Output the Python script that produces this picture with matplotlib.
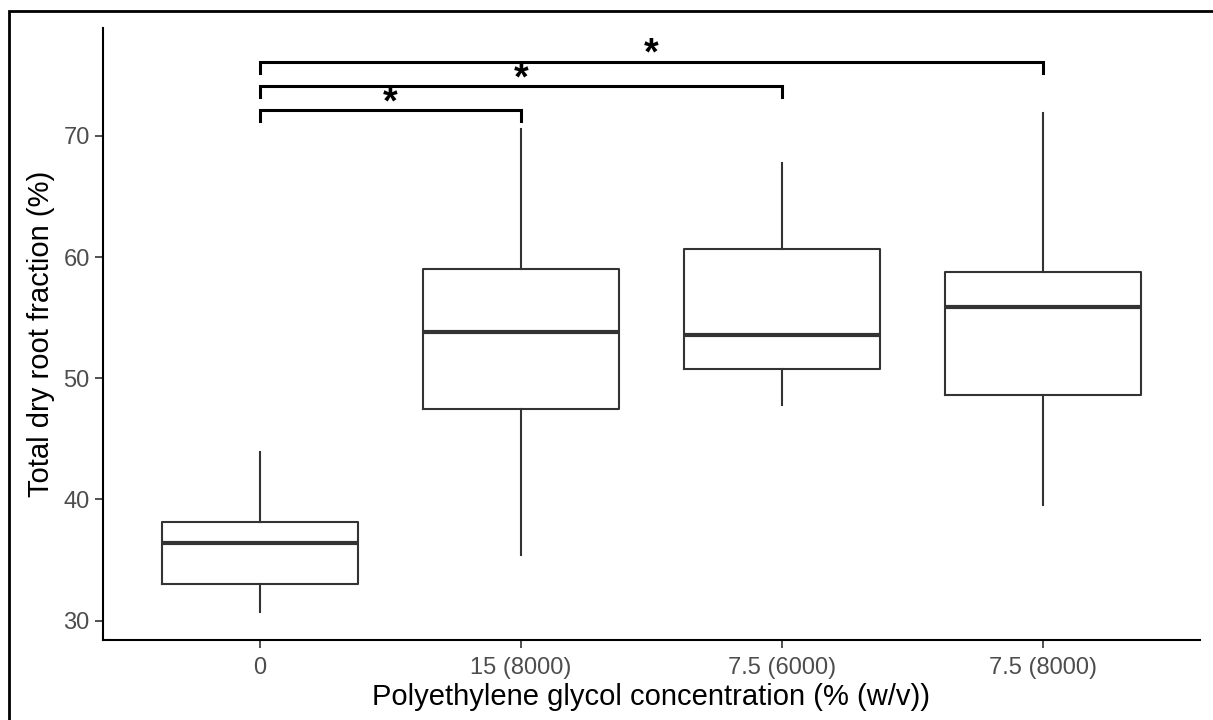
import matplotlib.pyplot as plt
from matplotlib.patches import Rectangle

plt.rcParams['font.family'] = ['Liberation Sans', 'DejaVu Sans']

# values
groups = ['0', '15 (8000)', '7.5 (6000)', '7.5 (8000)']
whislo = [30.7, 35.4, 47.8, 39.5]
q1 = [33.0, 47.5, 50.8, 48.6]
med = [36.4, 53.8, 53.6, 55.9]
q3 = [38.1, 59.0, 60.7, 58.8]
whishi = [43.9, 70.6, 67.8, 71.9]

# significance brackets: (from group, to group, height)
brackets = [(0, 1, 72.1), (0, 2, 74.1), (0, 3, 76.1)]
bracket_labels = ['*', '*', '*']

fig = plt.figure(figsize=(12.13, 7.2), dpi=100)
ax = fig.add_axes([103 / 1213, 80 / 720, 1097 / 1213, 612 / 720])

stats = []
for i, g in enumerate(groups):
    stats.append(dict(label=g, whislo=whislo[i], q1=q1[i], med=med[i],
                      q3=q3[i], whishi=whishi[i], fliers=[]))

ax.bxp(stats, positions=range(len(groups)), widths=0.75, showcaps=False,
       boxprops=dict(color='#333333', linewidth=1.5),
       whiskerprops=dict(color='#333333', linewidth=1.5),
       medianprops=dict(color='#333333', linewidth=3))

for (a, b, h), lab in zip(brackets, bracket_labels):
    ax.plot([a, a, b, b], [h - 0.9, h, h, h - 0.9], color='black', lw=2.2,
            solid_joinstyle='miter', clip_on=False)
    ax.text((a + b) / 2, h - 0.9, lab, ha='center', va='bottom',
            fontsize=27, fontweight='bold', color='black')

ax.set_xlim(-0.6, 3.6)
ax.set_ylim(28.4, 78.9)
ax.set_yticks([30, 40, 50, 60, 70])
ax.set_xlabel('Polyethylene glycol concentration (% (w/v))', fontsize=21, labelpad=3)
ax.set_ylabel('Total dry root fraction (%)', fontsize=21, labelpad=6)
ax.tick_params(labelsize=17, labelcolor='#4D4D4D', color='#333333', length=6, width=1.2)
ax.tick_params(axis='x', pad=6)
for s in ['top', 'right']:
    ax.spines[s].set_visible(False)
for s in ['left', 'bottom']:
    ax.spines[s].set_linewidth(1.5)

# screenshot frame
fig.patches.append(Rectangle((9 / 1213, -0.05), 1.1, 1 - 11 / 720 + 0.05,
                             transform=fig.transFigure, fill=False,
                             edgecolor='black', linewidth=2))

fig.savefig('out.png', dpi=100)
